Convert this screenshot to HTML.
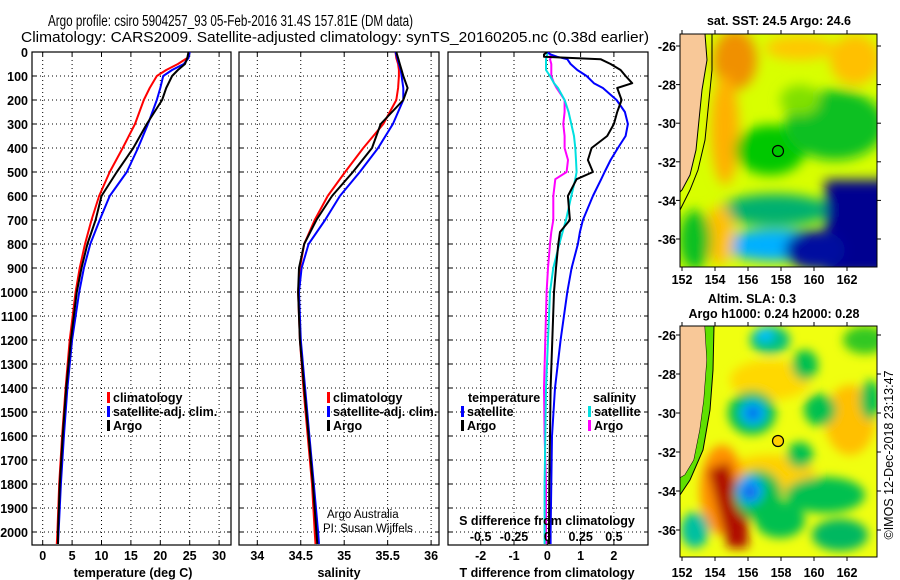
<!DOCTYPE html>
<html><head><meta charset="utf-8"><style>
html,body{margin:0;padding:0;background:#fff}
svg{display:block;font-family:"Liberation Sans",sans-serif}
.tk{font-size:12.5px;font-weight:bold}
.lg{font-size:12.5px;font-weight:bold}
</style></head><body>
<svg id="fig" width="900" height="580" viewBox="0 0 900 580" xmlns="http://www.w3.org/2000/svg">
<defs>
<filter id="b1" x="-50%" y="-50%" width="200%" height="200%"><feGaussianBlur stdDeviation="6"/></filter>
<filter id="b2" x="-50%" y="-50%" width="200%" height="200%"><feGaussianBlur stdDeviation="5"/></filter>
<clipPath id="cm1"><rect x="680" y="34" width="197" height="233"/></clipPath>
<clipPath id="cm2"><rect x="680" y="326" width="197" height="231"/></clipPath>
<clipPath id="cp1"><rect x="32" y="52" width="199" height="493"/></clipPath>
<clipPath id="cp2"><rect x="239" y="52" width="200" height="493"/></clipPath>
<clipPath id="cp3"><rect x="448" y="52" width="200" height="493"/></clipPath>
</defs>
<text x="48" y="26" font-size="15.5" textLength="365" lengthAdjust="spacingAndGlyphs">Argo profile: csiro 5904257_93 05-Feb-2016 31.4S 157.81E (DM data)</text>
<text x="21" y="42" font-size="14.5" textLength="628" lengthAdjust="spacingAndGlyphs">Climatology: CARS2009. Satellite-adjusted climatology: synTS_20160205.nc (0.38d earlier)</text>

<g id="p1"></g>
<g id="p2"></g>
<g id="p3"></g>

<!-- Map 1 SST -->
<g>
<g clip-path="url(#cm1)">
<rect x="680" y="34" width="197" height="233" fill="#d8ff00"/>
<g filter="url(#b1)">
<ellipse cx="735" cy="60" rx="22" ry="30" fill="#f09000"/>
<ellipse cx="725" cy="130" rx="14" ry="55" fill="#ffb000"/>
<ellipse cx="800" cy="48" rx="35" ry="12" fill="#ffc800"/>
<ellipse cx="855" cy="60" rx="25" ry="25" fill="#ffc000"/>
<ellipse cx="770" cy="150" rx="35" ry="25" fill="#00c800"/>
<ellipse cx="835" cy="125" rx="50" ry="35" fill="#10c020"/>
<ellipse cx="800" cy="100" rx="20" ry="15" fill="#80e000"/>
<ellipse cx="775" cy="210" rx="55" ry="16" fill="#00b070"/>
<ellipse cx="775" cy="245" rx="55" ry="16" fill="#00b0ff"/>
<ellipse cx="720" cy="235" rx="14" ry="30" fill="#ffc000"/>
<rect x="825" y="180" width="70" height="95" fill="#000090"/>
<ellipse cx="815" cy="250" rx="30" ry="20" fill="#0010a0"/>
<ellipse cx="695" cy="240" rx="16" ry="30" fill="#10c020"/>
</g>
<polygon points="680,34 705,34 707,60 702,90 699,120 696,150 690,175 682,190 680,192" fill="#f8c898" stroke="#000" stroke-width="1"/>
<polyline points="712,34 712,70 708,110 705,140 698,170 690,190 680,210" fill="none" stroke="#000" stroke-width="1"/>
</g>
<rect x="680" y="34" width="197" height="233" fill="none" stroke="#000" stroke-width="1"/>
<circle cx="778" cy="151" r="5.5" fill="none" stroke="#000" stroke-width="1.2"/>
<text x="779" y="25" text-anchor="middle" class="tk">sat. SST: 24.5 Argo: 24.6</text>
</g>

<!-- Map 2 SLA -->
<g>
<g clip-path="url(#cm2)">
<rect x="680" y="326" width="197" height="231" fill="#f0ff10"/>
<g filter="url(#b2)">
<ellipse cx="770" cy="380" rx="40" ry="20" fill="#ffd800"/>
<ellipse cx="850" cy="420" rx="25" ry="35" fill="#ffc000"/>
<ellipse cx="770" cy="475" rx="45" ry="20" fill="#ffd000"/>
<ellipse cx="722" cy="490" rx="22" ry="45" fill="#ff9000"/>
<polygon points="708,470 728,462 748,520 748,548 728,548" fill="#b01000"/>
<ellipse cx="752" cy="413" rx="24" ry="22" fill="#00c050"/>
<ellipse cx="753" cy="413" rx="13" ry="12" fill="#00b0ff"/>
<ellipse cx="753" cy="413" rx="6" ry="6" fill="#0050e0"/>
<ellipse cx="758" cy="495" rx="24" ry="25" fill="#00c050"/>
<ellipse cx="750" cy="490" rx="13" ry="14" fill="#00a0ff"/>
<ellipse cx="750" cy="492" rx="6" ry="6" fill="#2040e0"/>
<ellipse cx="780" cy="520" rx="25" ry="18" fill="#00c050"/>
<ellipse cx="825" cy="495" rx="40" ry="18" fill="#00c050"/>
<ellipse cx="840" cy="535" rx="28" ry="16" fill="#00b860"/>
<ellipse cx="820" cy="410" rx="16" ry="16" fill="#00c050"/>
<ellipse cx="800" cy="455" rx="13" ry="13" fill="#00c050"/>
<ellipse cx="770" cy="340" rx="20" ry="14" fill="#00c080"/>
<ellipse cx="765" cy="335" rx="9" ry="7" fill="#00c0ff"/>
<ellipse cx="805" cy="365" rx="13" ry="15" fill="#00c050"/>
<ellipse cx="870" cy="400" rx="10" ry="20" fill="#00c050"/>
<ellipse cx="865" cy="340" rx="22" ry="14" fill="#30c820"/>
<ellipse cx="695" cy="530" rx="14" ry="18" fill="#00c0a0"/>
</g>
<polygon points="680,326 705,326 707,360 704,400 700,430 694,460 685,475 680,478" fill="#f8c898" stroke="#000" stroke-width="1"/>
<polygon points="705,326 714,326 713,370 710,410 703,450 690,480 680,495 680,478 685,475 694,460 700,430 704,400 707,360" fill="#60e000"/>
<polyline points="714,326 713,370 710,410 703,450 690,480 680,495" fill="none" stroke="#000" stroke-width="1"/>
</g>
<rect x="680" y="326" width="197" height="231" fill="none" stroke="#000" stroke-width="1"/>
<circle cx="778" cy="441" r="5.5" fill="#ffd000" stroke="#000" stroke-width="1.2"/>
<text x="752" y="303" text-anchor="middle" class="tk">Altim. SLA: 0.3</text>
<text x="774" y="318" text-anchor="middle" class="tk">Argo h1000: 0.24 h2000: 0.28</text>
</g>
<text transform="translate(893,455) rotate(-90)" text-anchor="middle" font-size="12.5">©IMOS 12-Dec-2018 23:13:47</text>
<g id="maxes"></g>
</svg>
<script>
// ---- data ----
var depths = [0,25,50,75,100,150,200,300,400,500,600,700,800,900,1000,1200,1400,1600,1800,2000,2050];
var tempClim = [25,24.6,23,21,19.4,18.2,17.2,15.7,13.6,11.4,9.6,8.3,7.2,6.3,5.6,4.6,3.9,3.3,2.8,2.5,2.4];
var tempSat  = [25,24.8,24,22,20.5,20,19.4,17.9,16.2,14.3,11.4,9.7,8.1,7,6.2,5,4.2,3.6,3.1,2.7,2.6];
var tempArgo = [24.8,24.6,24.2,23,22,21,20.3,17.7,15.4,12.6,10,9,7.6,6.6,5.8,4.8,4,3.4,2.9,2.6,2.6];
var salClim = [35.59,35.6,35.62,35.63,35.63,35.62,35.6,35.45,35.22,35.01,34.81,34.66,34.54,34.49,34.47,34.49,34.53,34.58,34.63,34.66,34.67];
var salSat  = [35.59,35.61,35.63,35.65,35.66,35.68,35.68,35.56,35.39,35.18,34.95,34.78,34.59,34.51,34.48,34.5,34.55,34.6,34.65,34.7,34.71];
var salArgo = [35.6,35.62,35.64,35.66,35.68,35.73,35.68,35.42,35.32,35.1,34.86,34.68,34.54,34.48,34.47,34.49,34.54,34.59,34.64,34.68,34.69];
var diffDepths = [0,10,20,30,50,75,100,130,150,200,250,300,350,400,450,500,530,600,700,750,800,900,1000,1200,1400,1600,1800,2000,2050];
var dTArgo = [0,-0.1,-0.1,1.6,1.9,2.2,2.35,2.55,2.1,2.23,2.1,2.0,1.8,1.33,1.22,1.37,0.88,0.62,0.68,0.38,0.33,0.26,0.2,0.15,0.1,0.08,0.06,0.05,0.05];
var dTSat  = [0,0.1,0.3,0.6,0.7,0.9,1.18,1.4,1.67,2.08,2.33,2.42,2.35,2.12,1.9,1.72,1.62,1.37,1.07,0.98,0.92,0.73,0.6,0.4,0.23,0.14,0.12,0.1,0.1];
var dSArgo = [0,0.02,0.03,0.02,0.03,0.03,0.03,0.05,0.07,0.13,0.13,0.12,0.13,0.13,0.155,0.145,0.06,0.045,0.045,0.03,0.02,0.005,-0.005,-0.015,-0.025,-0.02,-0.01,-0.01,-0.01];
var dSSat  = [0.005,0.0,-0.005,-0.01,-0.01,-0.01,0.02,0.05,0.08,0.13,0.16,0.18,0.2,0.21,0.215,0.22,0.21,0.18,0.14,0.115,0.09,0.045,0.02,0.005,-0.01,-0.015,-0.02,-0.02,-0.02];
var yTicks = [0,100,200,300,400,500,600,700,800,900,1000,1100,1200,1300,1400,1500,1600,1700,1800,1900,2000];
var tTicks = [0,5,10,15,20,25,30];
var sTicks = [34,34.5,35,35.5,36];
var sTickLabels = ['34','34.5','35','35.5','36'];
var dTTicks = [-2,-1,0,1,2];
var dSTicks = [-0.5,-0.25,0,0.25,0.5];
var dSTickLabels = ['-0.5','-0.25','0','0.25','0.5'];
var lonTicks = [152,154,156,158,160,162];
var latTicks = [-26,-28,-30,-32,-34,-36];

// ---- scales ----
var NS='http://www.w3.org/2000/svg';
function yD(d){return 52+d*0.24;}
function xT(t){return 42.7+t*5.88;}
function xS(s){return 257.3+(s-34)*86.9;}
function xDT(t){return 547.3+t*33.3;}
function xDS(s){return 547.3+s*133.3;}
function mk(tag,attrs,parent,txt){var e=document.createElementNS(NS,tag);for(var k in attrs)e.setAttribute(k,attrs[k]);if(txt!==undefined)e.textContent=txt;parent.appendChild(e);return e;}

function panel(g,x0,x1,xgrid){
  var r=mk('rect',{x:x0,y:52,width:x1-x0,height:493,fill:'none',stroke:'#000','stroke-width':1.2},g);
  
  
  yTicks.forEach(function(d){if(d===0)return;
    var l=mk('line',{x1:x0,x2:x1,y1:yD(d),y2:yD(d),stroke:'#000','stroke-dasharray':'1,3','stroke-width':1},g);
    
    
    mk('line',{x1:x0,x2:x0+4,y1:yD(d),y2:yD(d),stroke:'#000'},g);
    mk('line',{x1:x1-4,x2:x1,y1:yD(d),y2:yD(d),stroke:'#000'},g);
  });
  xgrid.forEach(function(x){
    var l=mk('line',{x1:x,x2:x,y1:52,y2:545,stroke:'#000','stroke-dasharray':'1,3','stroke-width':1},g);
    
    
    mk('line',{x1:x,x2:x,y1:545,y2:541,stroke:'#000'},g);
    mk('line',{x1:x,x2:x,y1:52,y2:56,stroke:'#000'},g);
  });
}
function line(g,ds,vs,fx,color,w,name,clip){
  var pts=ds.map(function(d,i){return fx(vs[i]).toFixed(1)+','+yD(d).toFixed(1);}).join(' ');
  var p=mk('polyline',{points:pts,fill:'none',stroke:color,'stroke-width':w,'stroke-linejoin':'round','clip-path':clip},g);
  
  
}
function legend(g,x,y,items){
  items.forEach(function(it,i){
    mk('rect',{x:x,y:y+i*14-10,width:3,height:11,fill:it[1]},g);
    var t=mk('text',{x:x+6,y:y+i*14,'class':'lg'},g,it[0]);
    
    
  });
}

// Panel 1
var g1=document.getElementById('p1');
panel(g1,32,231,tTicks.map(xT));
yTicks.forEach(function(d){
  var t=mk('text',{x:28,y:yD(d)+5,'text-anchor':'end','class':'tk'},g1,String(d));
  
  
});
tTicks.forEach(function(v){
  var t=mk('text',{x:xT(v),y:560,'text-anchor':'middle','class':'tk'},g1,String(v));
  
  
});
var xl1=mk('text',{x:133,y:577,'text-anchor':'middle','class':'tk'},g1,'temperature (deg C)');


line(g1,depths,tempClim,xT,'#ff0000',2,'series-climatology','url(#cp1)');
line(g1,depths,tempSat,xT,'#0000ff',2,'series-satellite-adj','url(#cp1)');
line(g1,depths,tempArgo,xT,'#000000',2,'series-argo','url(#cp1)');
legend(g1,107,402,[['climatology','#ff0000'],['satellite-adj. clim.','#0000ff'],['Argo','#000']]);

// Panel 2
var g2=document.getElementById('p2');
panel(g2,239,439,sTicks.map(xS));
sTicks.forEach(function(v,i){
  var t=mk('text',{x:xS(v),y:560,'text-anchor':'middle','class':'tk'},g2,sTickLabels[i]);
  
  
});
var xl2=mk('text',{x:339,y:577,'text-anchor':'middle','class':'tk'},g2,'salinity');


line(g2,depths,salClim,xS,'#ff0000',2,'series-climatology','url(#cp2)');
line(g2,depths,salSat,xS,'#0000ff',2,'series-satellite-adj','url(#cp2)');
line(g2,depths,salArgo,xS,'#000000',2,'series-argo','url(#cp2)');
legend(g2,327,402,[['climatology','#ff0000'],['satellite-adj. clim.','#0000ff'],['Argo','#000']]);
var c1=mk('text',{x:327,y:518,'font-size':11.5},g2,'Argo Australia');


var c2=mk('text',{x:323,y:532,'font-size':11.5},g2,'PI: Susan Wijffels');



// Panel 3
var g3=document.getElementById('p3');
panel(g3,448,648,dTTicks.map(xDT));
line(g3,diffDepths,dSArgo,xDS,'#ff00ff',2,'series-s-diff-argo','url(#cp3)');
line(g3,diffDepths,dSSat,xDS,'#00e0e0',2,'series-s-diff-satellite','url(#cp3)');
line(g3,diffDepths,dTSat,xDT,'#0000ff',2,'series-t-diff-satellite','url(#cp3)');
line(g3,diffDepths,dTArgo,xDT,'#000000',2,'series-t-diff-argo','url(#cp3)');
dTTicks.forEach(function(v){
  var t=mk('text',{x:xDT(v),y:560,'text-anchor':'middle','class':'tk'},g3,String(v));
  
  
});
dSTicks.forEach(function(v,i){
  var t=mk('text',{x:xDS(v),y:541,'text-anchor':'middle','class':'tk'},g3,dSTickLabels[i]);
  
  
});
var xl3=mk('text',{x:547,y:577,'text-anchor':'middle','class':'tk'},g3,'T difference from climatology');


var xl3b=mk('text',{x:547,y:525,'text-anchor':'middle','class':'tk'},g3,'S difference from climatology');


var lt=mk('text',{x:468,y:402,'class':'lg'},g3,'temperature');


legend(g3,461,416,[['satellite','#0000ff'],['Argo','#000']]);
var ls=mk('text',{x:593,y:402,'class':'lg'},g3,'salinity');


legend(g3,588,416,[['satellite','#00e0e0'],['Argo','#ff00ff']]);

// Map axes (lat labels on left, ticks both sides)
var ga=document.getElementById('maxes');
function mapAxes(y0,y1,latTop,latScale,labY){
  lonTicks.forEach(function(l){
    var x=682+(l-152)*16.5;
    mk('line',{x1:x,x2:x,y1:y1,y2:y1+4,stroke:'#000'},ga);
    mk('line',{x1:x,x2:x,y1:y0,y2:y0-4,stroke:'#000'},ga);
    var t=mk('text',{x:x,y:labY,'text-anchor':'middle','class':'tk','font-size':13},ga,String(l));
    
    
  });
  latTicks.forEach(function(l){
    var y=latTop+(-26-l)*latScale;
    mk('line',{x1:877,x2:881,y1:y,y2:y,stroke:'#000'},ga);
    mk('line',{x1:676,x2:680,y1:y,y2:y,stroke:'#000'},ga);
    var t=mk('text',{x:676,y:y+5,'text-anchor':'end','class':'tk','font-size':13},ga,String(l));
    
    
  });
}
mapAxes(34,267,46,19.3,284);
mapAxes(326,557,335,19.5,577);
</script>
</body></html>
